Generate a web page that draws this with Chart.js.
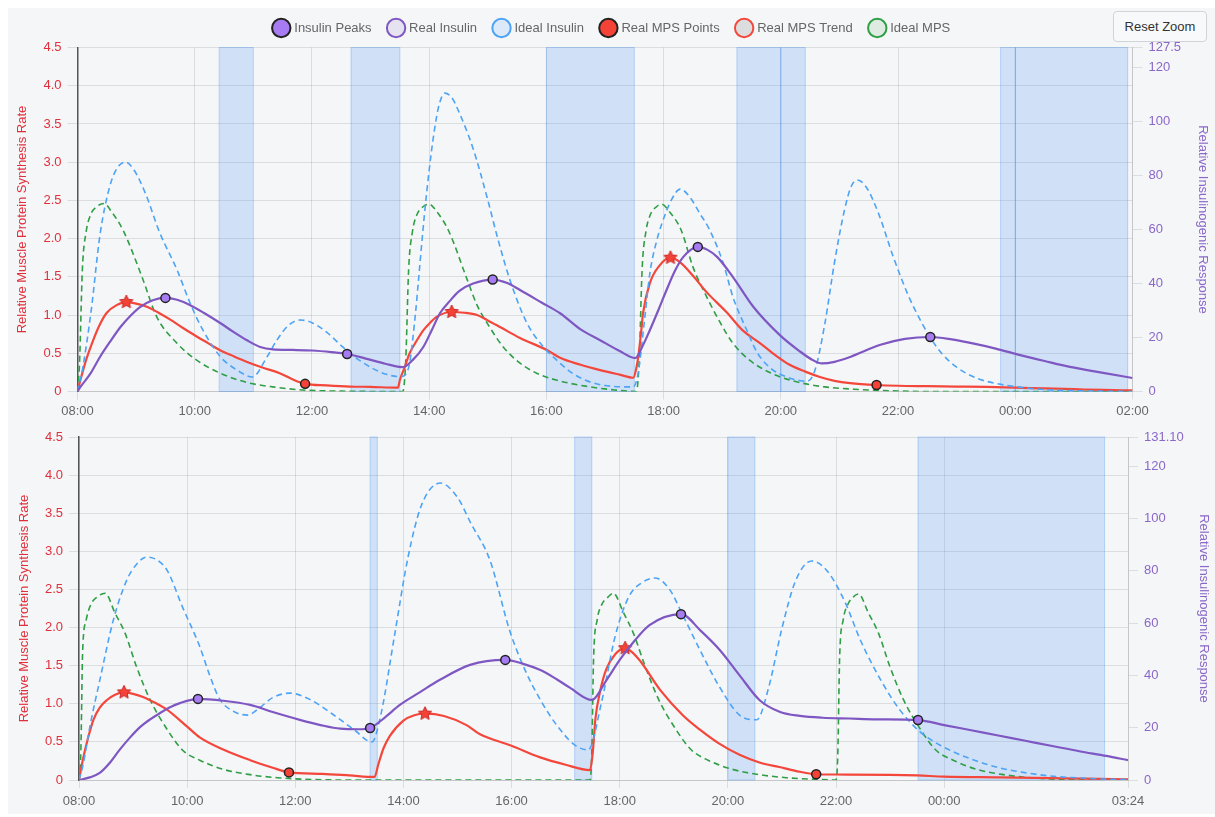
<!DOCTYPE html>
<html><head><meta charset="utf-8">
<script src="https://cdn.jsdelivr.net/npm/chart.js@4.4.1/dist/chart.umd.min.js"></script>
<style>
html,body{margin:0;padding:0;background:#fff;overflow:hidden;width:1215px;height:817px;}
#bg{position:absolute;left:8px;top:8px;width:1207px;height:806px;background:#f5f6f8;}
.cv{position:absolute;}
#reset{position:absolute;left:1113px;top:11px;width:94px;height:31px;box-sizing:border-box;background:#f8f9fa;border:1px solid #d0d3d8;border-radius:4px;font:13px 'Helvetica Neue',Helvetica,Arial,sans-serif;color:#333;padding:0;}
</style></head>
<body>
<div id="bg"></div>
<canvas id="c1" class="cv" width="1203" height="420" style="left:11px;top:0px"></canvas>
<canvas id="c2" class="cv" width="1202" height="390" style="left:13px;top:420px"></canvas>
<button id="reset">Reset Zoom</button>
<script>
// ---------- DATA (time "HH:MM", value) ----------
const legendLabels = ['Insulin Peaks','Real Insulin','Ideal Insulin','Real MPS Points','Real MPS Trend','Ideal MPS'];

// Top chart
const topXTicks = ['08:00','10:00','12:00','14:00','16:00','18:00','20:00','22:00','00:00','02:00'];
const topRightTicks = [0,20,40,60,80,100,120,127.5];
const topRightLabels = ['0','20','40','60','80','100','120','127.5'];
const topRegions = [['10:25','11:00'],['12:40','13:30'],['16:00','17:30'],['19:15','20:00'],['20:00','20:25'],['23:45','00:00'],['00:00','01:55']];
const topInsulinPeaks = [['09:30',34.7],['12:36',13.9],['15:05',41.5],['18:35',53.6],['22:33',20.2]];
const topRealInsulin = [['08:00',0],['08:03',1.7],['08:13',6.5],['08:23',12.8],['08:34',18.8],['08:44',23.9],['08:54',28],['09:04',31.3],['09:17',33.8],['09:30',34.7],['09:42',34],['09:55',32.1],['10:10',29],['10:26',25.4],['10:40',22],['10:53',19.1],['11:07',16.5],['11:20',15.6],['11:40',15.4],['12:00',15.2],['12:20',14.6],['12:36',13.9],['12:55',12.2],['13:15',10.3],['13:33',9],['13:44',12],['13:54',16.5],['14:03',23],['14:11',29],['14:21',33.5],['14:31',37.3],['14:45',40],['15:05',41.5],['15:20',40.2],['15:33',37.6],['15:55',33],['16:14',29],['16:35',23],['16:55',19],['17:15',15],['17:31',12.4],['17:38',16.5],['17:46',22.8],['17:55',30.5],['18:03',37.6],['18:12',45],['18:20',49.8],['18:35',53.6],['18:45',52.5],['18:55',49.8],['19:11',42.4],['19:32',31.3],['19:59',20.9],['20:19',15],['20:32',11.8],['20:42',10.4],['20:55',11],['21:11',12.8],['21:42',17.3],['22:07',19.5],['22:33',20.2],['22:55',19.3],['23:14',18],['23:40',15.9],['00:05',13.5],['00:30',11.3],['00:56',9.1],['01:30',6.9],['02:00',5]];
const topIdealInsulin = [['08:00',0],['08:05',8],['08:14',30],['08:23',58],['08:33',76],['08:41',83],['08:49',85],['08:58',82],['09:10',73],['09:24',59],['09:42',45],['09:55',33],['10:08',23],['10:26',13],['10:43',8],['10:59',5.4],['11:14',12.8],['11:24',19],['11:36',24.5],['11:48',26.5],['12:00',25.5],['12:15',22],['12:30',17],['12:45',12.5],['13:00',9],['13:15',6.5],['13:30',5.5],['13:35',6],['13:40',10.6],['13:46',29],['13:49',41],['13:55',65],['14:00',82],['14:05',96],['14:10',106],['14:16',110.6],['14:23',109],['14:30',104],['14:45',90],['15:00',71],['15:10',57],['15:23',41],['15:40',25.4],['15:57',16.5],['16:07',12.8],['16:30',6],['17:00',2.2],['17:29',1.7],['17:34',6.9],['17:40',25],['17:46',44],['17:53',56],['17:58',62],['18:08',71],['18:17',75],['18:27',72],['18:37',66],['18:47',60],['19:01',47.6],['19:11',35],['19:25',22.8],['19:36',14.3],['19:50',8.5],['20:05',5.5],['20:20',4],['20:27',3.8],['20:35',8],['20:45',25],['20:55',48],['21:05',67],['21:12',76],['21:18',78.4],['21:27',76],['21:40',66],['21:55',50],['22:10',36],['22:22',27],['22:33',20],['22:45',14],['23:00',9],['23:20',5],['23:40',3],['00:00',1.8],['00:30',0.7],['01:00',0.3],['02:00',0]];
const topMpsPeaks = [['08:50',1.17],['14:23',1.04],['18:07',1.75]];
const topMpsLows = [['11:53',0.1],['21:38',0.085]];
const topRealMps = [['08:00',0],['08:03',0.15],['08:09',0.42],['08:16',0.67],['08:23',0.88],['08:30',1.03],['08:40',1.13],['08:50',1.17],['09:00',1.15],['09:11',1.11],['09:23',1.03],['09:35',0.94],['09:48',0.83],['10:02',0.72],['10:14',0.63],['10:26',0.54],['10:40',0.46],['10:53',0.39],['11:10',0.31],['11:27',0.24],['11:40',0.16],['11:53',0.1],['12:15',0.08],['12:39',0.065],['13:00',0.06],['13:28',0.05],['13:30',0.15],['13:35',0.32],['13:40',0.5],['13:47',0.66],['13:54',0.8],['14:01',0.9],['14:08',0.98],['14:23',1.04],['14:36',1.03],['14:49',1.0],['15:00',0.93],['15:13',0.84],['15:33',0.7],['16:01',0.54],['16:14',0.44],['16:35',0.35],['16:55',0.28],['17:15',0.22],['17:29',0.18],['17:32',0.3],['17:34',0.45],['17:37',0.78],['17:39',1.03],['17:46',1.42],['17:56',1.65],['18:07',1.75],['18:17',1.69],['18:31',1.5],['18:44',1.3],['19:05',1.03],['19:21',0.8],['19:39',0.63],['19:55',0.47],['20:09',0.35],['20:25',0.26],['20:40',0.19],['20:55',0.14],['21:11',0.11],['21:38',0.085],['22:00',0.075],['22:30',0.07],['23:00',0.065],['23:30',0.06],['00:00',0.05],['00:30',0.04],['01:00',0.03],['01:30',0.02],['02:00',0.015]];
const topIdealMps = [['08:00',0],['08:02',0.35],['08:05',1.6],['08:09',2.1],['08:13',2.3],['08:20',2.42],['08:27',2.46],['08:35',2.35],['08:47',2.1],['09:06',1.5],['09:21',0.98],['09:42',0.63],['10:02',0.41],['10:26',0.24],['10:53',0.12],['11:20',0.06],['11:50',0.02],['12:30',0.005],['13:33',0],['13:36',0.4],['13:39',1.6],['13:43',2.1],['13:47',2.3],['13:54',2.42],['14:00',2.45],['14:08',2.35],['14:20',2.1],['14:39',1.46],['14:49',1.13],['15:02',0.84],['15:16',0.58],['15:33',0.37],['15:50',0.24],['16:10',0.15],['16:40',0.07],['17:10',0.02],['17:32',0],['17:35',0.4],['17:38',1.6],['17:42',2.1],['17:46',2.3],['17:53',2.42],['17:58',2.45],['18:06',2.35],['18:18',2.11],['18:30',1.63],['18:44',1.24],['18:58',0.9],['19:11',0.63],['19:28',0.41],['19:50',0.24],['20:15',0.13],['20:45',0.06],['21:15',0.03],['21:50',0.01],['22:30',0],['02:00',0]];

// Bottom chart
const botXTicks = ['08:00','10:00','12:00','14:00','16:00','18:00','20:00','22:00','00:00','03:24'];
const botRightTicks = [0,20,40,60,80,100,120,131.1];
const botRightLabels = ['0','20','40','60','80','100','120','131.10'];
const botRegions = [['13:23','13:31'],['17:10','17:29'],['20:00','20:30'],['23:31','02:58']];
const botInsulinPeaks = [['10:12',31],['13:23',19.9],['15:53',45.9],['19:08',63.4],['23:31',22.9]];
const botRealInsulin = [['08:00',0],['08:12',1],['08:23',2.7],['08:34',6.5],['08:45',11.5],['08:56',16],['09:08',20.3],['09:19',23.2],['09:30',25.6],['09:41',27.8],['09:52',29.4],['10:12',31],['10:40',30.3],['11:10',28.7],['11:35',26],['12:05',23],['12:28',21],['12:50',19.6],['13:10',19.4],['13:23',19.9],['13:38',23.5],['13:56',28.7],['14:18',33.5],['14:40',38.2],['15:14',44],['15:53',45.9],['16:12',44.5],['16:32',42],['16:50',38.5],['17:05',35.2],['17:29',30.6],['17:45',38],['18:00',45.9],['18:16',53],['18:33',59.2],['19:08',63.4],['19:30',57],['19:51',49.7],['20:13',40],['20:35',30.6],['20:58',26],['21:20',24.5],['21:45',23.8],['22:15',23.5],['22:45',23.2],['23:31',22.9],['00:00',21],['00:30',19],['01:00',17],['01:30',15],['02:00',13],['02:30',11],['03:00',9.2],['03:24',7.6]];
const botIdealInsulin = [['08:00',0],['08:04',5],['08:13',22],['08:23',38],['08:38',61],['08:53',76.4],['09:04',82.5],['09:15',85.2],['09:27',84],['09:38',80],['09:55',66],['10:14',51],['10:25',40],['10:36',31],['10:50',26.5],['11:07',24.8],['11:20',27.5],['11:35',31.5],['11:54',33.2],['12:15',31],['12:40',25.5],['13:06',19],['13:25',14.5],['13:35',25],['13:50',55],['14:05',85],['14:20',105],['14:41',113.5],['15:00',108],['15:15',98],['15:36',84],['15:58',57],['16:15',42],['16:32',30.6],['16:50',21],['17:10',13.4],['17:25',11.5],['17:40',30],['17:55',55],['18:10',70],['18:25',75.5],['18:39',77.2],['18:55',73],['19:10',63],['19:29',49.7],['19:50',36],['20:13',24.8],['20:32',23],['20:45',35],['21:00',58],['21:15',76],['21:33',83.7],['21:50',80],['22:10',68],['22:27',53.5],['22:50',38],['23:11',26.7],['23:33',18.5],['23:55',13.4],['00:30',8],['01:02',4.6],['01:30',2.8],['01:58',1.5],['02:30',0.8],['02:53',0.4],['03:24',0.2]];
const botMpsPeaks = [['08:50',1.15],['14:24',0.87],['18:06',1.73]];
const botMpsLows = [['11:53',0.1],['21:38',0.075]];
const botRealMps = [['08:00',0],['08:04',0.25],['08:10',0.55],['08:16',0.79],['08:23',0.95],['08:31',1.05],['08:40',1.12],['08:50',1.15],['09:00',1.13],['09:11',1.09],['09:25',1.01],['09:38',0.92],['10:00',0.7],['10:14',0.56],['10:40',0.4],['11:10',0.26],['11:35',0.16],['11:53',0.1],['12:30',0.08],['13:00',0.06],['13:28',0.04],['13:32',0.2],['13:38',0.42],['13:45',0.58],['14:00',0.78],['14:12',0.85],['14:24',0.87],['14:45',0.84],['15:10',0.72],['15:25',0.6],['16:00',0.45],['16:31',0.3],['17:00',0.2],['17:27',0.13],['17:30',0.35],['17:33',0.8],['17:38',1.15],['17:45',1.45],['17:55',1.65],['18:06',1.73],['18:20',1.6],['18:45',1.18],['19:10',0.85],['19:29',0.66],['19:50',0.48],['20:13',0.33],['20:35',0.23],['20:57',0.17],['21:15',0.12],['21:38',0.075],['22:00',0.072],['23:00',0.068],['23:30',0.06],['00:00',0.045],['01:00',0.035],['02:00',0.025],['03:24',0.01]];
const botIdealMps = [['08:00',0],['08:02',0.35],['08:04',1.67],['08:08',2.1],['08:13',2.3],['08:20',2.4],['08:29',2.45],['08:40',2.19],['08:51',1.93],['09:04',1.48],['09:19',1.05],['09:38',0.66],['09:55',0.39],['10:14',0.26],['10:40',0.14],['11:10',0.07],['11:40',0.03],['12:10',0.01],['13:00',0],['17:27',0],['17:29',0.35],['17:31',1.6],['17:35',2.1],['17:40',2.3],['17:47',2.4],['17:53',2.45],['18:04',2.2],['18:15',1.93],['18:28',1.5],['18:43',1.06],['19:02',0.67],['19:19',0.4],['19:38',0.26],['20:05',0.14],['20:35',0.07],['21:05',0.03],['21:35',0.01],['22:00',0],['22:02',0.35],['22:04',1.6],['22:08',2.1],['22:13',2.3],['22:19',2.4],['22:25',2.44],['22:36',2.19],['22:47',1.93],['23:00',1.48],['23:15',1.05],['23:34',0.66],['23:51',0.39],['00:10',0.26],['00:36',0.14],['01:06',0.07],['01:36',0.03],['02:06',0.01],['03:24',0]];

// ---------- STYLE ----------
const FONT = "'Helvetica Neue', Helvetica, Arial, sans-serif";
Chart.defaults.font.family = FONT;
Chart.defaults.font.size = 13;
Chart.defaults.color = '#666';
const GRID = 'rgba(0,0,0,0.1)';
const RED_AX = '#e0303c';
const PURPLE_AX = '#8a67c8';
const C_PEAK = '#a77cf2', C_REALINS = '#7e57c2', C_IDEALINS = '#4da3f5', C_MPSPT = '#f44336', C_MPS = '#f4473c', C_IDEALMPS = '#2f9e45';
const legendFill = ['#a77cf2','rgba(126,87,194,0.12)','rgba(77,163,245,0.15)','#f44336','rgba(0,0,0,0.1)','rgba(47,158,69,0.12)'];
const legendStroke = ['#222','#7e57c2','#4da3f5','#222','#f4473c','#2f9e45'];

function tm(s){ const p=s.split(':'); const h=+p[0], m=+p[1]; let v=h*60+m; if(h<8) v+=1440; return v; }
function fmt(v){ const h=Math.floor(v/60)%24, m=Math.round(v%60); return String(h).padStart(2,'0')+':'+String(m).padStart(2,'0'); }
function pts(arr){ return arr.map(a=>({x:tm(a[0]), y:a[1]})); }

function makeStar(r){
  const s=Math.ceil(r*2+4); const c=document.createElement('canvas'); c.width=c.height=s;
  const g=c.getContext('2d'); g.beginPath();
  for(let i=0;i<10;i++){ const a=-Math.PI/2+i*Math.PI/5; const rr=(i%2)?r*0.48:r; g.lineTo(s/2+rr*Math.cos(a), s/2+rr*Math.sin(a)); }
  g.closePath(); g.fillStyle='#f44336'; g.fill(); g.lineWidth=1; g.strokeStyle='#c62828'; g.stroke();
  return c;
}
const STAR = makeStar(7);

const regionPlugin = {
  id:'regions',
  beforeDatasetsDraw(chart, args, opts){
    const {ctx, chartArea:ca, scales:{x}} = chart;
    ctx.save();
    (opts.list||[]).forEach(r=>{
      const x1=x.getPixelForValue(tm(r[0])), x2=x.getPixelForValue(tm(r[1]));
      ctx.fillStyle='rgba(60,140,240,0.2)';
      ctx.fillRect(x1, ca.top, x2-x1, ca.bottom-ca.top);
      ctx.strokeStyle='rgba(60,140,240,0.3)'; ctx.lineWidth=1;
      ctx.strokeRect(x1, ca.top, x2-x1, ca.bottom-ca.top);
    });
    ctx.restore();
  }
};

function build(id, cfg){
  const mpsPts = pts(cfg.mpsPeaks).concat(pts(cfg.mpsLows)).sort((a,b)=>a.x-b.x);
  const peakSet = new Set(cfg.mpsPeaks.map(a=>tm(a[0])));
  const styles = mpsPts.map(p=>peakSet.has(p.x)?STAR:'circle');
  const datasets = [
    {label:legendLabels[0], data:pts(cfg.peaks), yAxisID:'y1', showLine:false, pointRadius:4.5, pointHoverRadius:4.5, pointBackgroundColor:C_PEAK, pointBorderColor:'#222', pointBorderWidth:1.5, borderColor:'#222', backgroundColor:C_PEAK},
    {label:legendLabels[1], data:pts(cfg.realIns), yAxisID:'y1', borderColor:C_REALINS, borderWidth:2.2, pointRadius:0, cubicInterpolationMode:'monotone'},
    {label:legendLabels[2], data:pts(cfg.idealIns), yAxisID:'y1', borderColor:C_IDEALINS, borderWidth:1.6, borderDash:[6,4], pointRadius:0, cubicInterpolationMode:'monotone'},
    {label:legendLabels[3], data:mpsPts, yAxisID:'y', showLine:false, pointStyle:styles, pointRadius:4.5, pointBackgroundColor:C_MPSPT, pointBorderColor:'#222', pointBorderWidth:1.5, borderColor:'#222', backgroundColor:C_MPSPT},
    {label:legendLabels[4], data:pts(cfg.realMps), yAxisID:'y', borderColor:C_MPS, borderWidth:2.2, pointRadius:0, cubicInterpolationMode:'monotone'},
    {label:legendLabels[5], data:pts(cfg.idealMps), yAxisID:'y', borderColor:C_IDEALMPS, borderWidth:1.6, borderDash:[6,4], pointRadius:0, cubicInterpolationMode:'monotone'}
  ];
  const legendPad = {
    id:'legendPad',
    afterInit(chart){ if(chart.legend){ const lg=chart.legend; const f=lg.fit.bind(lg); lg.fit=function(){ f(); if(this.height) this.height += cfg.legendExtra; }; } }
  };
  return new Chart(document.getElementById(id), {
    type:'line',
    data:{datasets},
    plugins:[regionPlugin, legendPad],
    options:{
      responsive:false, animation:false,
      layout:{padding:{top:cfg.padTop, left:0, right:0, bottom:0}},
      plugins:{
        regions:{list:cfg.regions},
        tooltip:{enabled:false},
        legend:{display:cfg.legend, position:'top',
          labels:{usePointStyle:true, color:'#666', padding:18,
            generateLabels:(ch)=>ch.data.datasets.map((d,i)=>({text:d.label, fillStyle:legendFill[i], strokeStyle:legendStroke[i], lineWidth:2, pointStyle:'circle', hidden:false, datasetIndex:i, fontColor:'#666'}))}}
      },
      scales:{
        x:{type:'linear', min:tm('08:00'), max:tm(cfg.xTicks[cfg.xTicks.length-1]),
          afterBuildTicks:(s)=>{ s.ticks = cfg.xTicks.map(t=>({value:tm(t)})); },
          ticks:{callback:(v)=>fmt(v), color:'#666', maxRotation:0, autoSkip:false, padding:cfg.xPad},
          grid:{color:GRID, tickLength:8}, border:{color:GRID},
          afterFit:(s)=>{ s.height = cfg.xH; }},
        y:{type:'linear', position:'left', min:0, max:4.5,
          ticks:{stepSize:0.5, color:RED_AX, padding:6},
          grid:{color:GRID, tickLength:10}, border:{color:'#555', width:1.5},
          title:{display:true, text:'Relative Muscle Protein Synthesis Rate', color:RED_AX},
          afterFit:(s)=>{ s.width = cfg.lw; }},
        y1:{type:'linear', position:'right', min:0, max:cfg.rTicks[cfg.rTicks.length-1],
          afterBuildTicks:(s)=>{ s.ticks = cfg.rTicks.map(v=>({value:v})); },
          ticks:{callback:(v,i)=>cfg.rLabels[i], color:PURPLE_AX, padding:6},
          grid:{drawOnChartArea:false, color:GRID, tickLength:10}, border:{color:GRID},
          title:{display:true, text:'Relative Insulinogenic Response', color:PURPLE_AX},
          afterFit:(s)=>{ s.width = cfg.rw; }}
      }
    }
  });
}

build('c1', {peaks:topInsulinPeaks, realIns:topRealInsulin, idealIns:topIdealInsulin, mpsPeaks:topMpsPeaks, mpsLows:topMpsLows, realMps:topRealMps, idealMps:topIdealMps, regions:topRegions, xTicks:topXTicks, rTicks:topRightTicks, rLabels:topRightLabels, legend:true, legendExtra:3, padTop:3.5, xH:28.5, xPad:4, lw:66.5, rw:81.5});
build('c2', {peaks:botInsulinPeaks, realIns:botRealInsulin, idealIns:botIdealInsulin, mpsPeaks:botMpsPeaks, mpsLows:botMpsLows, realMps:botRealMps, idealMps:botIdealMps, regions:botRegions, xTicks:botXTicks, rTicks:botRightTicks, rLabels:botRightLabels, legend:false, legendExtra:0, padTop:17, xH:30, xPad:6, lw:66, rw:87});
</script>
</body></html>
